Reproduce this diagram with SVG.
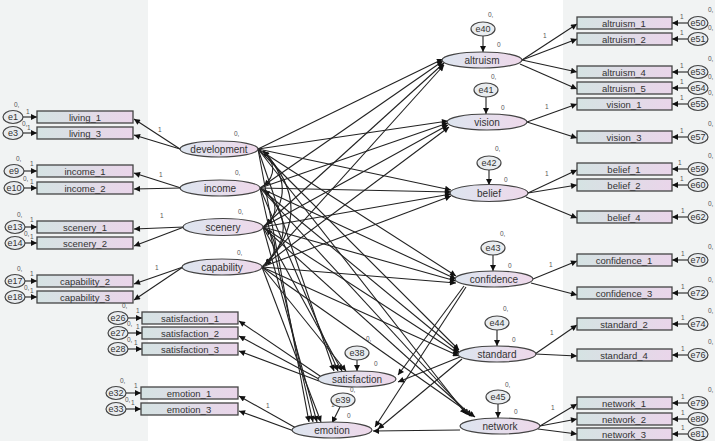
<svg xmlns="http://www.w3.org/2000/svg" width="719" height="441" viewBox="0 0 719 441">
<defs>
<linearGradient id="g" x1="0" x2="1" y1="0" y2="0"><stop offset="0" stop-color="#d5e3e3"/><stop offset="1" stop-color="#ead5ea"/></linearGradient>
<linearGradient id="ge" x1="0" x2="1" y1="0" y2="0"><stop offset="0" stop-color="#dde5ef"/><stop offset="1" stop-color="#eed8ea"/></linearGradient>
<marker id="a" viewBox="0 0 10 10" refX="10" refY="5" markerWidth="9" markerHeight="6" orient="auto-start-reverse" markerUnits="userSpaceOnUse"><path d="M0,0 L10,5 L0,10 z" fill="#111"/></marker>
<style>
.ind{fill:url(#g);stroke:#444;stroke-width:1.3}
.lat{fill:url(#ge);stroke:#444;stroke-width:1.2}
.err{fill:#e9ecef;stroke:#444;stroke-width:1.2}
text{font-family:"Liberation Sans",Arial,sans-serif;fill:#333}
.t{font-size:9.5px;text-anchor:middle}
.l{font-size:10px;text-anchor:middle}
.e{font-size:9px;text-anchor:middle}
.s{font-size:6.5px;fill:#555}
#connectors line,#connectors path{stroke:#222;stroke-width:1.1;fill:none;marker-end:url(#a)}
#connectors .cov{marker-start:url(#a)}
</style>
</defs>
<rect x="0" y="0" width="148" height="441" fill="#f1f3f3"/>
<rect x="563" y="0" width="152" height="441" fill="#f1f3f3"/>

<g id="connectors">
<line x1="180" y1="149" x2="134" y2="119"/>
<line x1="180" y1="149" x2="134" y2="135"/>
<line x1="181" y1="188" x2="134" y2="173"/>
<line x1="181" y1="188" x2="134" y2="189"/>
<line x1="184" y1="227" x2="134" y2="229"/>
<line x1="184" y1="227" x2="134" y2="246"/>
<line x1="183" y1="267" x2="134" y2="284"/>
<line x1="183" y1="267" x2="134" y2="300"/>
<line x1="23" y1="117" x2="37" y2="117"/>
<line x1="23" y1="133" x2="37" y2="133"/>
<line x1="24" y1="171" x2="37" y2="171"/>
<line x1="24" y1="188" x2="37" y2="188"/>
<line x1="25" y1="227" x2="37" y2="227"/>
<line x1="25" y1="243" x2="37" y2="243"/>
<line x1="25" y1="281" x2="37" y2="281"/>
<line x1="25" y1="297" x2="37" y2="297"/>
<line x1="320" y1="376" x2="239" y2="321"/>
<line x1="319" y1="379" x2="239" y2="336"/>
<line x1="319" y1="381" x2="239" y2="351"/>
<line x1="296" y1="428" x2="239" y2="396"/>
<line x1="294" y1="431" x2="239" y2="411"/>
<line x1="128" y1="318" x2="142" y2="318"/>
<line x1="128" y1="333" x2="142" y2="333"/>
<line x1="128" y1="349" x2="142" y2="349"/>
<line x1="126" y1="393" x2="141" y2="393"/>
<line x1="126" y1="409" x2="141" y2="409"/>
<line x1="357" y1="360" x2="357" y2="371"/>
<line x1="340" y1="407" x2="332" y2="423"/>
<line x1="522" y1="60" x2="577" y2="24"/>
<line x1="522" y1="60" x2="577" y2="39"/>
<line x1="522" y1="60" x2="577" y2="72"/>
<line x1="520" y1="64" x2="577" y2="89"/>
<line x1="527" y1="122" x2="577" y2="104"/>
<line x1="527" y1="122" x2="577" y2="138"/>
<line x1="528" y1="193" x2="577" y2="170"/>
<line x1="528" y1="193" x2="577" y2="185"/>
<line x1="526" y1="197" x2="577" y2="218"/>
<line x1="533" y1="279" x2="577" y2="261"/>
<line x1="531" y1="283" x2="577" y2="295"/>
<line x1="535" y1="354" x2="577" y2="325"/>
<line x1="535" y1="354" x2="577" y2="356"/>
<line x1="540" y1="426" x2="577" y2="404"/>
<line x1="540" y1="426" x2="577" y2="419"/>
<line x1="538" y1="429" x2="577" y2="434"/>
<line x1="688" y1="23" x2="672" y2="23"/>
<line x1="688" y1="39" x2="672" y2="39"/>
<line x1="688" y1="72" x2="672" y2="72"/>
<line x1="688" y1="88" x2="672" y2="88"/>
<line x1="688" y1="104" x2="672" y2="104"/>
<line x1="688" y1="137" x2="672" y2="137"/>
<line x1="688" y1="169" x2="672" y2="169"/>
<line x1="688" y1="185" x2="672" y2="185"/>
<line x1="688" y1="217" x2="672" y2="217"/>
<line x1="688" y1="260" x2="672" y2="260"/>
<line x1="688" y1="293" x2="672" y2="293"/>
<line x1="688" y1="324" x2="672" y2="324"/>
<line x1="688" y1="355" x2="672" y2="355"/>
<line x1="688" y1="403" x2="672" y2="403"/>
<line x1="688" y1="419" x2="672" y2="419"/>
<line x1="688" y1="434" x2="672" y2="434"/>
<line x1="483" y1="36" x2="483" y2="52"/>
<line x1="486" y1="97" x2="486" y2="114"/>
<line x1="489" y1="170" x2="489" y2="185"/>
<line x1="493" y1="255" x2="493" y2="271"/>
<line x1="497" y1="330" x2="497" y2="346"/>
<line x1="498" y1="404" x2="498" y2="418"/>
<path class="cov" d="M263,151 Q282,169 264,186"/>
<path class="cov" d="M263,151 Q300,188 266,225"/>
<path class="cov" d="M263,151 Q318,208 265,265"/>
<path class="cov" d="M264,190 Q285,208 266,225"/>
<path class="cov" d="M264,190 Q302,228 265,265"/>
<path class="cov" d="M266,229 Q284,247 265,265"/>
<line x1="258" y1="149" x2="443" y2="59"/>
<line x1="258" y1="149" x2="448" y2="121"/>
<line x1="258" y1="149" x2="451" y2="190"/>
<line x1="258" y1="149" x2="456" y2="276"/>
<line x1="258" y1="149" x2="459" y2="350"/>
<line x1="258" y1="149" x2="466" y2="414"/>
<line x1="258" y1="149" x2="334" y2="371"/>
<line x1="258" y1="149" x2="309" y2="422"/>
<line x1="260" y1="188" x2="443" y2="61"/>
<line x1="260" y1="188" x2="448" y2="123"/>
<line x1="260" y1="188" x2="451" y2="192"/>
<line x1="260" y1="188" x2="456" y2="279"/>
<line x1="260" y1="188" x2="459" y2="352"/>
<line x1="260" y1="188" x2="469" y2="415"/>
<line x1="260" y1="188" x2="338" y2="371"/>
<line x1="260" y1="188" x2="313" y2="422"/>
<line x1="263" y1="227" x2="444" y2="63"/>
<line x1="263" y1="227" x2="448" y2="125"/>
<line x1="263" y1="227" x2="451" y2="194"/>
<line x1="263" y1="227" x2="456" y2="281"/>
<line x1="263" y1="227" x2="459" y2="354"/>
<line x1="263" y1="227" x2="472" y2="416"/>
<line x1="263" y1="227" x2="342" y2="371"/>
<line x1="263" y1="227" x2="317" y2="422"/>
<line x1="262" y1="267" x2="444" y2="65"/>
<line x1="262" y1="267" x2="449" y2="127"/>
<line x1="262" y1="267" x2="451" y2="196"/>
<line x1="262" y1="267" x2="456" y2="283"/>
<line x1="262" y1="267" x2="459" y2="356"/>
<line x1="262" y1="267" x2="475" y2="417"/>
<line x1="262" y1="267" x2="346" y2="371"/>
<line x1="262" y1="267" x2="321" y2="422"/>
<line x1="464" y1="286" x2="398" y2="375"/>
<line x1="466" y1="287" x2="375" y2="427"/>
<line x1="460" y1="357" x2="398" y2="382"/>
<line x1="462" y1="359" x2="378" y2="429"/>
<line x1="460" y1="430" x2="373" y2="431"/>
</g>

<g id="errors-left">
<g id="e1"><ellipse class="err" cx="13" cy="117" rx="10" ry="6.5"/><text class="e" x="13" y="120">e1</text></g>
<g id="e3"><ellipse class="err" cx="13" cy="133" rx="10" ry="6.5"/><text class="e" x="13" y="136">e3</text></g>
<g id="e9"><ellipse class="err" cx="14" cy="171" rx="10" ry="6.5"/><text class="e" x="14" y="174">e9</text></g>
<g id="e10"><ellipse class="err" cx="14" cy="188" rx="10" ry="6.5"/><text class="e" x="14" y="191">e10</text></g>
<g id="e13"><ellipse class="err" cx="15" cy="227" rx="10" ry="6.5"/><text class="e" x="15" y="230">e13</text></g>
<g id="e14"><ellipse class="err" cx="15" cy="243" rx="10" ry="6.5"/><text class="e" x="15" y="246">e14</text></g>
<g id="e17"><ellipse class="err" cx="15" cy="281" rx="10" ry="6.5"/><text class="e" x="15" y="284">e17</text></g>
<g id="e18"><ellipse class="err" cx="15" cy="297" rx="10" ry="6.5"/><text class="e" x="15" y="300">e18</text></g>
<g id="e26"><ellipse class="err" cx="118" cy="318" rx="10" ry="6.5"/><text class="e" x="118" y="321">e26</text></g>
<g id="e27"><ellipse class="err" cx="118" cy="333" rx="10" ry="6.5"/><text class="e" x="118" y="336">e27</text></g>
<g id="e28"><ellipse class="err" cx="118" cy="349" rx="10" ry="6.5"/><text class="e" x="118" y="352">e28</text></g>
<g id="e32"><ellipse class="err" cx="116" cy="393" rx="10" ry="6.5"/><text class="e" x="116" y="396">e32</text></g>
<g id="e33"><ellipse class="err" cx="116" cy="409" rx="10" ry="6.5"/><text class="e" x="116" y="412">e33</text></g>
<text class="s" x="14" y="107">0,</text><text class="s" x="26" y="114">1</text>
<text class="s" x="22" y="126">0,</text><text class="s" x="27" y="130">1</text>
<text class="s" x="16" y="161">0,</text><text class="s" x="30" y="166">1</text>
<text class="s" x="23" y="181">0,</text><text class="s" x="30" y="184">1</text>
<text class="s" x="17" y="217">0,</text><text class="s" x="30" y="222">1</text>
<text class="s" x="24" y="236">0,</text><text class="s" x="30" y="239">1</text>
<text class="s" x="17" y="271">0,</text><text class="s" x="30" y="276">1</text>
<text class="s" x="24" y="290">0,</text><text class="s" x="30" y="293">1</text>
<text class="s" x="122" y="308">0,</text><text class="s" x="136" y="313">1</text>
<text class="s" x="127" y="326">0,</text><text class="s" x="136" y="329">1</text>
<text class="s" x="127" y="342">0,</text><text class="s" x="134" y="345">1</text>
<text class="s" x="120" y="383">0,</text><text class="s" x="134" y="388">1</text>
<text class="s" x="125" y="402">0,</text><text class="s" x="131" y="405">1</text>
</g>

<g id="indicators-left">
<g id="living_1"><rect class="ind" x="37" y="111" width="96" height="12"/><text class="t" x="85" y="120.5">living_1</text></g>
<g id="living_3"><rect class="ind" x="37" y="127" width="96" height="12"/><text class="t" x="85" y="136.5">living_3</text></g>
<g id="income_1"><rect class="ind" x="37" y="165" width="96" height="12"/><text class="t" x="85" y="174.5">income_1</text></g>
<g id="income_2"><rect class="ind" x="37" y="182" width="96" height="12"/><text class="t" x="85" y="191.5">income_2</text></g>
<g id="scenery_1"><rect class="ind" x="37" y="221" width="96" height="12"/><text class="t" x="85" y="230.5">scenery_1</text></g>
<g id="scenery_2"><rect class="ind" x="37" y="237" width="96" height="12"/><text class="t" x="85" y="246.5">scenery_2</text></g>
<g id="capability_2"><rect class="ind" x="37" y="275" width="96" height="12"/><text class="t" x="85" y="284.5">capability_2</text></g>
<g id="capability_3"><rect class="ind" x="37" y="291" width="96" height="12"/><text class="t" x="85" y="300.5">capability_3</text></g>
<g id="satisfaction_1"><rect class="ind" x="142" y="312" width="96" height="12"/><text class="t" x="190" y="321.5">satisfaction_1</text></g>
<g id="satisfaction_2"><rect class="ind" x="142" y="327" width="96" height="12"/><text class="t" x="190" y="336.5">satisfaction_2</text></g>
<g id="satisfaction_3"><rect class="ind" x="142" y="343" width="96" height="12"/><text class="t" x="190" y="352.5">satisfaction_3</text></g>
<g id="emotion_1"><rect class="ind" x="141" y="387" width="97" height="12"/><text class="t" x="189" y="396.5">emotion_1</text></g>
<g id="emotion_3"><rect class="ind" x="141" y="403" width="97" height="12"/><text class="t" x="189" y="412.5">emotion_3</text></g>
</g>

<g id="latents-left">
<g id="development"><ellipse class="lat" cx="219" cy="149" rx="39" ry="8"/><text class="l" x="219" y="152.5">development</text><text class="s" x="234" y="136">0,</text><text class="s" x="158" y="132">1</text></g>
<g id="income"><ellipse class="lat" cx="220" cy="188" rx="40" ry="8"/><text class="l" x="220" y="191.5">income</text><text class="s" x="235" y="175">0,</text><text class="s" x="159" y="177">1</text></g>
<g id="scenery"><ellipse class="lat" cx="223" cy="227" rx="40" ry="8.5"/><text class="l" x="223" y="230.5">scenery</text><text class="s" x="238" y="214">0,</text><text class="s" x="160" y="218">1</text></g>
<g id="capability"><ellipse class="lat" cx="222" cy="267" rx="40" ry="8"/><text class="l" x="222" y="270.5">capability</text><text class="s" x="237" y="255">0,</text><text class="s" x="155" y="270">1</text></g>
<g id="satisfaction"><ellipse class="lat" cx="357" cy="379" rx="39" ry="8"/><text class="l" x="357" y="382.5">satisfaction</text><text class="s" x="374" y="366">0</text><text class="s" x="350" y="392">0,</text></g>
<g id="emotion"><ellipse class="lat" cx="332" cy="430" rx="40" ry="8"/><text class="l" x="332" y="433.5">emotion</text><text class="s" x="347" y="418">0</text><text class="s" x="331" y="407">1</text></g>
<g id="e38"><ellipse class="err" cx="357" cy="353" rx="12" ry="7"/><text class="e" x="357" y="356">e38</text><text class="s" x="366" y="341">0,</text></g>
<g id="e39"><ellipse class="err" cx="343" cy="400" rx="12" ry="7"/><text class="e" x="343" y="403">e39</text></g>
<text class="s" x="266" y="408">1</text>
</g>

<g id="latents-right">
<g id="altruism"><ellipse class="lat" cx="482" cy="60" rx="40" ry="8"/><text class="l" x="482" y="63.5">altruism</text><text class="s" x="497" y="47">0</text><text class="s" x="543" y="38">1</text></g>
<g id="e40"><ellipse class="err" cx="483" cy="29" rx="12" ry="7"/><text class="e" x="483" y="32">e40</text><text class="s" x="488" y="17">0,</text></g>
<g id="vision"><ellipse class="lat" cx="487" cy="122" rx="40" ry="8"/><text class="l" x="487" y="125.5">vision</text><text class="s" x="501" y="110">0</text><text class="s" x="545" y="109">1</text></g>
<g id="e41"><ellipse class="err" cx="486" cy="90" rx="12" ry="7"/><text class="e" x="486" y="93">e41</text><text class="s" x="491" y="79">0,</text></g>
<g id="belief"><ellipse class="lat" cx="489" cy="193" rx="39" ry="8.5"/><text class="l" x="489" y="196.5">belief</text><text class="s" x="504" y="182">0</text><text class="s" x="545" y="176">1</text></g>
<g id="e42"><ellipse class="err" cx="489" cy="163" rx="12" ry="7"/><text class="e" x="489" y="166">e42</text><text class="s" x="495" y="151">0,</text></g>
<g id="confidence"><ellipse class="lat" cx="494" cy="279" rx="39" ry="8"/><text class="l" x="494" y="282.5">confidence</text><text class="s" x="508" y="268">0</text><text class="s" x="549" y="267">1</text></g>
<g id="e43"><ellipse class="err" cx="493" cy="248" rx="12" ry="7"/><text class="e" x="493" y="251">e43</text><text class="s" x="500" y="236">0,</text></g>
<g id="standard"><ellipse class="lat" cx="497" cy="354" rx="39" ry="8"/><text class="l" x="497" y="357.5">standard</text><text class="s" x="512" y="342">0</text><text class="s" x="550" y="335">1</text></g>
<g id="e44"><ellipse class="err" cx="497" cy="323" rx="12" ry="7"/><text class="e" x="497" y="326">e44</text><text class="s" x="503" y="311">0,</text></g>
<g id="network"><ellipse class="lat" cx="500" cy="426" rx="40" ry="8"/><text class="l" x="500" y="429.5">network</text><text class="s" x="514" y="414">0</text><text class="s" x="551" y="410">1</text></g>
<g id="e45"><ellipse class="err" cx="498" cy="397" rx="12" ry="7"/><text class="e" x="498" y="400">e45</text><text class="s" x="505" y="387">0,</text></g>
</g>

<g id="indicators-right">
<g id="altruism_1"><rect class="ind" x="577" y="17" width="95" height="12"/><text class="t" x="624" y="26.5">altruism_1</text></g>
<g id="altruism_2"><rect class="ind" x="577" y="33" width="95" height="12"/><text class="t" x="624" y="42.5">altruism_2</text></g>
<g id="altruism_4"><rect class="ind" x="577" y="66" width="95" height="12"/><text class="t" x="624" y="75.5">altruism_4</text></g>
<g id="altruism_5"><rect class="ind" x="577" y="82" width="95" height="12"/><text class="t" x="624" y="91.5">altruism_5</text></g>
<g id="vision_1"><rect class="ind" x="577" y="98" width="95" height="12"/><text class="t" x="624" y="107.5">vision_1</text></g>
<g id="vision_3"><rect class="ind" x="577" y="131" width="95" height="12"/><text class="t" x="624" y="140.5">vision_3</text></g>
<g id="belief_1"><rect class="ind" x="577" y="163" width="95" height="12"/><text class="t" x="624" y="172.5">belief_1</text></g>
<g id="belief_2"><rect class="ind" x="577" y="179" width="95" height="12"/><text class="t" x="624" y="188.5">belief_2</text></g>
<g id="belief_4"><rect class="ind" x="577" y="211" width="95" height="12"/><text class="t" x="624" y="220.5">belief_4</text></g>
<g id="confidence_1"><rect class="ind" x="577" y="254" width="95" height="12"/><text class="t" x="624" y="263.5">confidence_1</text></g>
<g id="confidence_3"><rect class="ind" x="577" y="287" width="95" height="12"/><text class="t" x="624" y="296.5">confidence_3</text></g>
<g id="standard_2"><rect class="ind" x="577" y="318" width="95" height="12"/><text class="t" x="624" y="327.5">standard_2</text></g>
<g id="standard_4"><rect class="ind" x="577" y="349" width="95" height="12"/><text class="t" x="624" y="358.5">standard_4</text></g>
<g id="network_1"><rect class="ind" x="577" y="397" width="95" height="12"/><text class="t" x="624" y="406.5">network_1</text></g>
<g id="network_2"><rect class="ind" x="577" y="413" width="95" height="12"/><text class="t" x="624" y="422.5">network_2</text></g>
<g id="network_3"><rect class="ind" x="577" y="428" width="95" height="12"/><text class="t" x="624" y="437.5">network_3</text></g>
</g>

<g id="errors-right">
<g id="e50"><ellipse class="err" cx="698" cy="23" rx="10" ry="6.5"/><text class="e" x="698" y="26">e50</text><text class="s" x="708" y="12">0,</text><text class="s" x="680" y="19">1</text></g>
<g id="e51"><ellipse class="err" cx="698" cy="39" rx="10" ry="6.5"/><text class="e" x="698" y="42">e51</text><text class="s" x="708" y="30">0,</text><text class="s" x="680" y="35">1</text></g>
<g id="e53"><ellipse class="err" cx="698" cy="72" rx="10" ry="6.5"/><text class="e" x="698" y="75">e53</text><text class="s" x="708" y="61">0,</text><text class="s" x="680" y="68">1</text></g>
<g id="e54"><ellipse class="err" cx="698" cy="88" rx="10" ry="6.5"/><text class="e" x="698" y="91">e54</text><text class="s" x="708" y="79">0,</text><text class="s" x="680" y="84">1</text></g>
<g id="e55"><ellipse class="err" cx="698" cy="104" rx="10" ry="6.5"/><text class="e" x="698" y="107">e55</text><text class="s" x="708" y="95">0,</text><text class="s" x="680" y="100">1</text></g>
<g id="e57"><ellipse class="err" cx="698" cy="137" rx="10" ry="6.5"/><text class="e" x="698" y="140">e57</text><text class="s" x="708" y="126">0,</text><text class="s" x="680" y="133">1</text></g>
<g id="e59"><ellipse class="err" cx="698" cy="169" rx="10" ry="6.5"/><text class="e" x="698" y="172">e59</text><text class="s" x="708" y="158">0,</text><text class="s" x="678" y="165">1</text></g>
<g id="e60"><ellipse class="err" cx="698" cy="185" rx="10" ry="6.5"/><text class="e" x="698" y="188">e60</text><text class="s" x="680" y="181">1</text></g>
<g id="e62"><ellipse class="err" cx="698" cy="217" rx="10" ry="6.5"/><text class="e" x="698" y="220">e62</text><text class="s" x="708" y="206">0,</text><text class="s" x="681" y="213">1</text></g>
<g id="e70"><ellipse class="err" cx="698" cy="260" rx="10" ry="6.5"/><text class="e" x="698" y="263">e70</text><text class="s" x="708" y="249">0,</text><text class="s" x="681" y="256">1</text></g>
<g id="e72"><ellipse class="err" cx="698" cy="293" rx="10" ry="6.5"/><text class="e" x="698" y="296">e72</text><text class="s" x="708" y="282">0,</text><text class="s" x="681" y="289">1</text></g>
<g id="e74"><ellipse class="err" cx="698" cy="324" rx="10" ry="6.5"/><text class="e" x="698" y="327">e74</text><text class="s" x="708" y="313">0,</text><text class="s" x="681" y="320">1</text></g>
<g id="e76"><ellipse class="err" cx="698" cy="355" rx="10" ry="6.5"/><text class="e" x="698" y="358">e76</text><text class="s" x="708" y="344">0,</text><text class="s" x="681" y="351">1</text></g>
<g id="e79"><ellipse class="err" cx="698" cy="403" rx="10" ry="6.5"/><text class="e" x="698" y="406">e79</text><text class="s" x="708" y="392">0,</text><text class="s" x="681" y="399">1</text></g>
<g id="e80"><ellipse class="err" cx="698" cy="419" rx="10" ry="6.5"/><text class="e" x="698" y="422">e80</text><text class="s" x="681" y="415">1</text></g>
<g id="e81"><ellipse class="err" cx="698" cy="434" rx="10" ry="6.5"/><text class="e" x="698" y="437">e81</text><text class="s" x="681" y="430">1</text></g>
</g>
</svg>
